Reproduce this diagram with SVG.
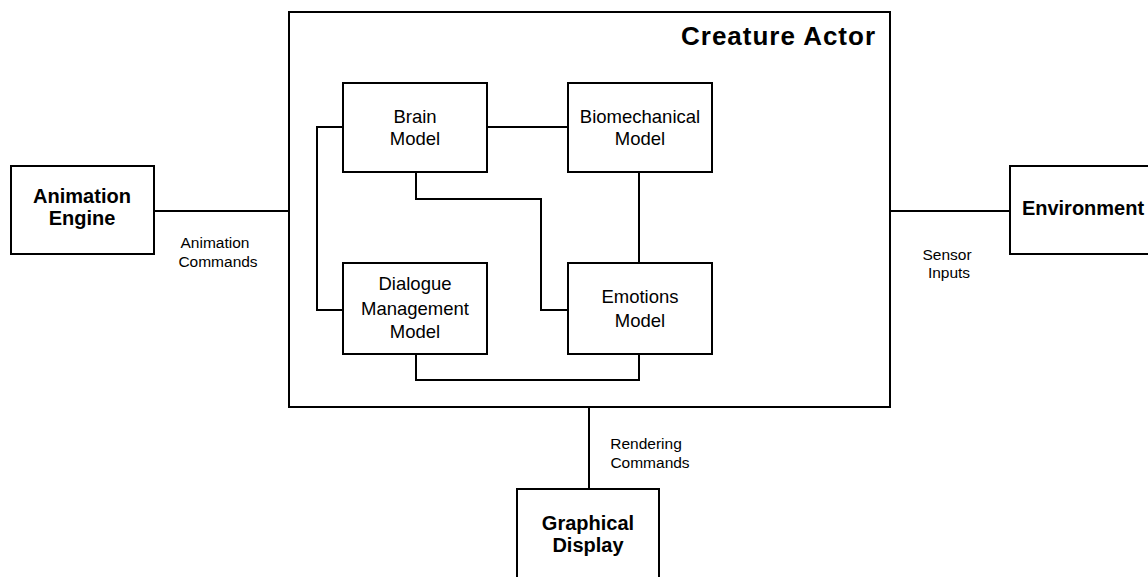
<svg xmlns="http://www.w3.org/2000/svg" width="1148" height="577" viewBox="0 0 1148 577">
  <style>
    .box { fill: #fff; stroke: #000; stroke-width: 2; }
    .wire { fill: none; stroke: #000; stroke-width: 2; }
    text { font-family: "Liberation Sans", Arial, sans-serif; fill: #000; text-anchor: middle; }
    .title { font-size: 26px; font-weight: bold; text-anchor: end; }
    .ext { font-size: 20px; font-weight: bold; }
    .inner { font-size: 18.5px; }
    .lbl { font-size: 15.5px; }
  </style>
  <rect width="1148" height="577" fill="#fff"/>

  <!-- container -->
  <g id="creature-actor">
    <rect class="box" x="289" y="12" width="601" height="395"/>
    <text class="title" x="875" y="45" textLength="194">Creature Actor</text>
  </g>

  <!-- connectors -->
  <g id="connectors">
    <path class="wire" d="M154 211 H289"/>
    <path class="wire" d="M890 211 H1010"/>
    <path class="wire" d="M589 407 V489"/>
    <path class="wire" d="M487 127 H568"/>
    <path class="wire" d="M343 127 H317 V310 H343"/>
    <path class="wire" d="M416 172 V199 H541 V310 H568"/>
    <path class="wire" d="M639 172 V263"/>
    <path class="wire" d="M416 354 V380 H639 V354"/>
  </g>

  <g id="brain-model">
    <rect class="box" x="343" y="83" width="144" height="89"/>
    <text class="inner" x="415" y="123">Brain</text>
    <text class="inner" x="415" y="145">Model</text>
  </g>

  <g id="biomechanical-model">
    <rect class="box" x="568" y="83" width="144" height="89"/>
    <text class="inner" x="640" y="123">Biomechanical</text>
    <text class="inner" x="640" y="145">Model</text>
  </g>

  <g id="dialogue-management-model">
    <rect class="box" x="343" y="263" width="144" height="91"/>
    <text class="inner" x="415" y="290">Dialogue</text>
    <text class="inner" x="415" y="315">Management</text>
    <text class="inner" x="415" y="338">Model</text>
  </g>

  <g id="emotions-model">
    <rect class="box" x="568" y="263" width="144" height="91"/>
    <text class="inner" x="640" y="303">Emotions</text>
    <text class="inner" x="640" y="327">Model</text>
  </g>

  <g id="animation-engine">
    <rect class="box" x="11" y="166" width="143" height="88"/>
    <text class="ext" x="82" y="203">Animation</text>
    <text class="ext" x="82" y="225">Engine</text>
  </g>

  <g id="environment">
    <rect class="box" x="1010" y="166" width="150" height="88"/>
    <text class="ext" x="1083" y="215">Environment</text>
  </g>

  <g id="graphical-display">
    <rect class="box" x="517" y="489" width="142" height="100"/>
    <text class="ext" x="588" y="530">Graphical</text>
    <text class="ext" x="588" y="552">Display</text>
  </g>

  <!-- connector labels -->
  <g id="labels">
    <text class="lbl" x="215" y="248">Animation</text>
    <text class="lbl" x="218" y="267">Commands</text>
    <text class="lbl" x="947" y="260">Sensor</text>
    <text class="lbl" x="949" y="278">Inputs</text>
    <text class="lbl" x="646" y="449">Rendering</text>
    <text class="lbl" x="650" y="468">Commands</text>
  </g>
</svg>
